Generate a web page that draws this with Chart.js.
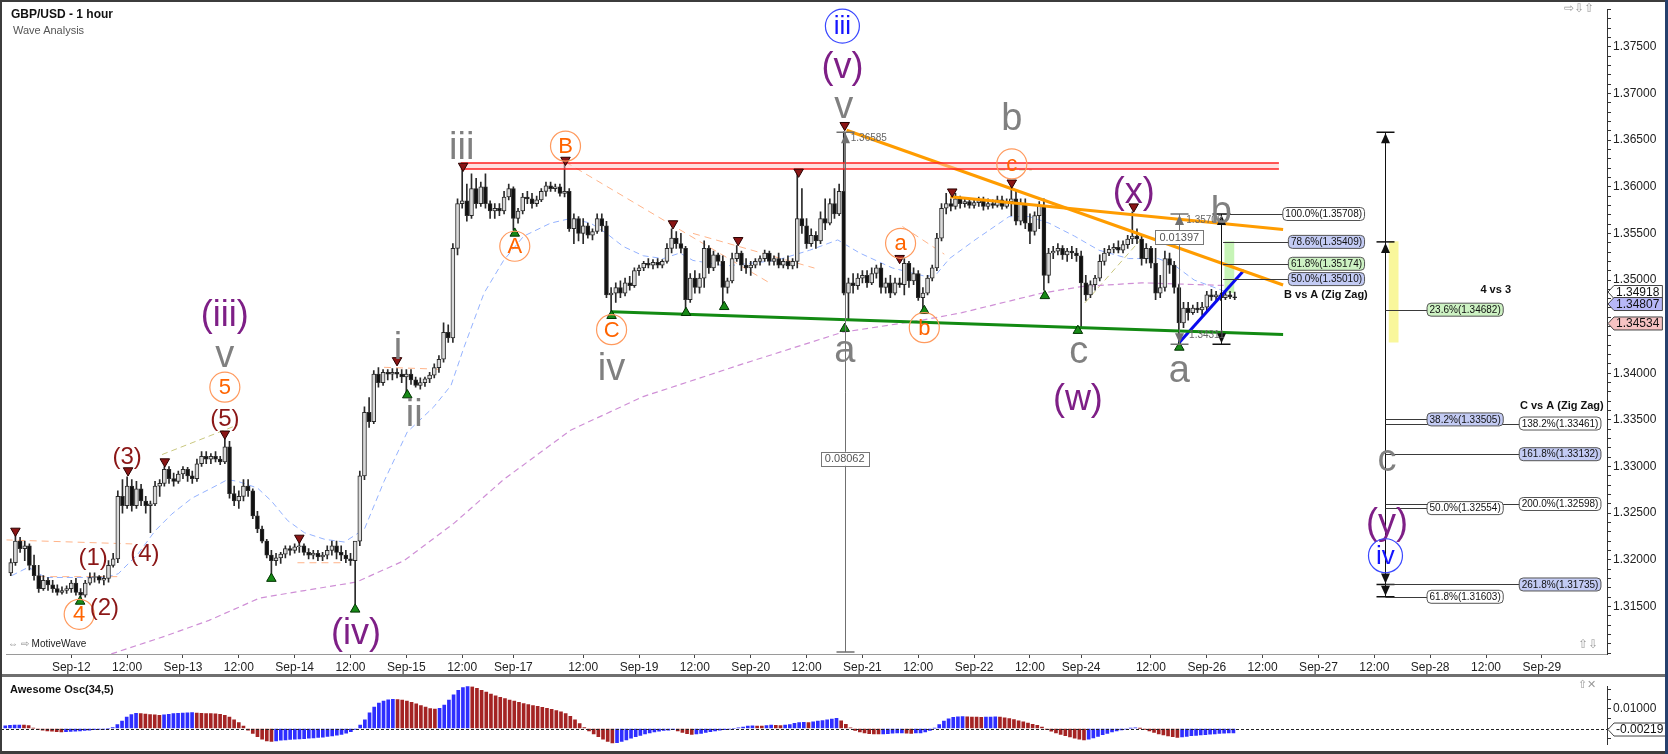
<!DOCTYPE html>
<html>
<head>
<meta charset="utf-8">
<title>GBP/USD - 1 hour</title>
<script src="https://cdn.jsdelivr.net/npm/chart.js@4.4.0/dist/chart.umd.min.js"></script>
<style>
  html, body { margin: 0; padding: 0; background: #fff; overflow: hidden; }
  #wrap { position: relative; width: 1668px; height: 754px; background: #fff;
          font-family: "Liberation Sans", Arial, sans-serif; }
  canvas { position: absolute; left: 0; }
  #main { top: 0; }
  #osc { top: 677px; }
  .t { position: absolute; white-space: nowrap; line-height: 1; }
  .bar { position: absolute; }
</style>
</head>
<body>
<div id="wrap">
  <canvas id="main" width="1668" height="676"></canvas>
  <canvas id="osc" width="1668" height="77"></canvas>

  <div class="bar" style="left:0;top:674px;width:1668px;height:3px;background:#6f6f6f"></div>
  <div class="bar" style="left:0;top:0;width:1668px;height:2px;background:#3c3c3c"></div>
  <div class="bar" style="left:0;top:0;width:2px;height:754px;background:#3c3c3c"></div>
  <div class="bar" style="left:0;top:751px;width:1668px;height:3px;background:#3c3c3c"></div>
  <div class="bar" style="left:1665px;top:0;width:3px;height:754px;background:#26406c"></div>

  <div class="t" style="left:11px;top:8px;font-weight:bold;font-size:12px;color:#111">GBP/USD - 1 hour</div>
  <div class="t" style="left:13px;top:25px;font-size:11px;color:#555">Wave Analysis</div>
  <div class="t" style="left:8px;top:639px;font-size:10px;color:#222"><span style="color:#888">&#x21D4; &#x21E8;</span> MotiveWave</div>
  <div class="t" style="left:1564px;top:2px;font-size:12px;color:#999">&#x21E8;&#x21E9;&#x21E7;</div>
  <div class="t" style="left:1578px;top:638px;font-size:12px;color:#999">&#x21E7;&#x21E9;</div>
  <div class="t" style="left:10px;top:684px;font-weight:bold;font-size:11px;color:#111">Awesome Osc(34,5)</div>
  <div class="t" style="left:1578px;top:679px;font-size:11px;color:#999">&#x21E7;&#x2715;</div>
</div>

<script>
// ---- price data: hourly candles [open, high, low, close], first bar = Sep-11 11:00 ----
const firstBar = -13;
const candles = [
  [1.3186,1.3201,1.3183,1.3197],[1.3197,1.3226,1.3194,1.3220],[1.3220,1.3224,1.3208,1.3212],
  [1.3212,1.3220,1.3199,1.3215],[1.3215,1.3217,1.3189,1.3194],[1.3194,1.3205,1.3178,1.3183],
  [1.3183,1.3194,1.3165,1.3169],[1.3169,1.3183,1.3167,1.3178],[1.3178,1.3181,1.3167,1.3173],
  [1.3173,1.3178,1.3165,1.3169],[1.3169,1.3173,1.3162,1.3165],[1.3165,1.3171,1.3163,1.3167],
  [1.3167,1.3172,1.3164,1.3169],[1.3169,1.3178,1.3165,1.3175],[1.3175,1.3180,1.3162,1.3165],
  [1.3165,1.3169,1.3159,1.3162],[1.3162,1.3178,1.3160,1.3175],[1.3175,1.3186,1.3173,1.3181],
  [1.3181,1.3186,1.3176,1.3182],[1.3182,1.3183,1.3175,1.3178],[1.3178,1.3183,1.3173,1.3180],
  [1.3180,1.3199,1.3176,1.3194],[1.3194,1.3207,1.3192,1.3201],[1.3201,1.3274,1.3197,1.3268],
  [1.3268,1.3286,1.3250,1.3258],[1.3258,1.3289,1.3255,1.3279],[1.3279,1.3286,1.3252,1.3258],
  [1.3258,1.3284,1.3255,1.3276],[1.3276,1.3281,1.3258,1.3263],[1.3263,1.3268,1.3250,1.3258],
  [1.3258,1.3263,1.3229,1.3260],[1.3260,1.3284,1.3258,1.3279],[1.3279,1.3286,1.3268,1.3282],
  [1.3282,1.3300,1.3279,1.3297],[1.3297,1.3300,1.3282,1.3287],[1.3287,1.3293,1.3279,1.3284],
  [1.3284,1.3295,1.3282,1.3292],[1.3292,1.3300,1.3287,1.3297],[1.3297,1.3299,1.3284,1.3290],
  [1.3290,1.3295,1.3282,1.3287],[1.3287,1.3308,1.3284,1.3303],[1.3303,1.3316,1.3300,1.3311],
  [1.3311,1.3316,1.3303,1.3308],[1.3308,1.3314,1.3303,1.3311],[1.3311,1.3316,1.3305,1.3308],
  [1.3308,1.3311,1.3302,1.3305],[1.3305,1.3330,1.3303,1.3321],[1.3321,1.3327,1.3266,1.3271],
  [1.3271,1.3279,1.3258,1.3263],[1.3263,1.3274,1.3255,1.3268],[1.3268,1.3286,1.3263,1.3279],
  [1.3279,1.3286,1.3268,1.3274],[1.3274,1.3276,1.3244,1.3247],[1.3247,1.3252,1.3229,1.3233],
  [1.3233,1.3236,1.3218,1.3220],[1.3220,1.3222,1.3202,1.3205],[1.3205,1.3210,1.3181,1.3199],
  [1.3199,1.3207,1.3194,1.3202],[1.3202,1.3208,1.3196,1.3206],[1.3206,1.3215,1.3202,1.3212],
  [1.3212,1.3215,1.3205,1.3210],[1.3210,1.3217,1.3207,1.3214],[1.3214,1.3222,1.3208,1.3215],
  [1.3215,1.3217,1.3205,1.3208],[1.3208,1.3212,1.3201,1.3205],[1.3205,1.3210,1.3201,1.3207],
  [1.3207,1.3210,1.3199,1.3203],[1.3203,1.3208,1.3199,1.3205],[1.3205,1.3215,1.3201,1.3210],
  [1.3210,1.3220,1.3205,1.3215],[1.3215,1.3220,1.3201,1.3208],[1.3208,1.3215,1.3199,1.3205],
  [1.3205,1.3210,1.3197,1.3201],[1.3201,1.3207,1.3194,1.3199],[1.3199,1.3212,1.3152,1.3220],
  [1.3220,1.3295,1.3215,1.3290],[1.3290,1.3364,1.3286,1.3358],[1.3358,1.3374,1.3342,1.3348],
  [1.3348,1.3403,1.3346,1.3399],[1.3399,1.3406,1.3385,1.3390],[1.3390,1.3404,1.3387,1.3401],
  [1.3401,1.3404,1.3393,1.3399],[1.3399,1.3405,1.3393,1.3401],[1.3401,1.3405,1.3395,1.3399],
  [1.3399,1.3404,1.3390,1.3396],[1.3396,1.3404,1.3378,1.3399],[1.3399,1.3404,1.3388,1.3393],
  [1.3393,1.3396,1.3385,1.3387],[1.3387,1.3395,1.3383,1.3390],[1.3390,1.3396,1.3386,1.3394],
  [1.3394,1.3401,1.3390,1.3398],[1.3398,1.3410,1.3395,1.3406],[1.3406,1.3419,1.3401,1.3415],
  [1.3415,1.3454,1.3412,1.3444],[1.3444,1.3452,1.3433,1.3438],[1.3438,1.3539,1.3433,1.3534],
  [1.3534,1.3587,1.3527,1.3582],[1.3582,1.3622,1.3577,1.3585],[1.3585,1.3603,1.3563,1.3569],
  [1.3569,1.3614,1.3566,1.3598],[1.3598,1.3609,1.3577,1.3582],[1.3582,1.3605,1.3579,1.3600],
  [1.3600,1.3614,1.3577,1.3582],[1.3582,1.3585,1.3566,1.3574],[1.3574,1.3582,1.3566,1.3577],
  [1.3577,1.3582,1.3569,1.3574],[1.3574,1.3595,1.3571,1.3589],[1.3589,1.3603,1.3586,1.3598],
  [1.3598,1.3600,1.3554,1.3566],[1.3566,1.3577,1.3561,1.3574],[1.3574,1.3593,1.3571,1.3589],
  [1.3589,1.3595,1.3582,1.3587],[1.3587,1.3593,1.3577,1.3582],[1.3582,1.3590,1.3579,1.3586],
  [1.3586,1.3598,1.3584,1.3595],[1.3595,1.3605,1.3590,1.3601],[1.3601,1.3605,1.3595,1.3598],
  [1.3598,1.3603,1.3595,1.3600],[1.3600,1.3603,1.3590,1.3593],[1.3593,1.3629,1.3589,1.3595],
  [1.3595,1.3598,1.3552,1.3555],[1.3555,1.3571,1.3539,1.3566],[1.3566,1.3568,1.3542,1.3550],
  [1.3550,1.3566,1.3539,1.3558],[1.3558,1.3561,1.3545,1.3548],[1.3548,1.3555,1.3543,1.3552],
  [1.3552,1.3571,1.3550,1.3566],[1.3566,1.3571,1.3552,1.3558],[1.3558,1.3563,1.3481,1.3484],
  [1.3484,1.3492,1.3463,1.3486],[1.3486,1.3497,1.3476,1.3492],[1.3492,1.3499,1.3481,1.3486],
  [1.3486,1.3502,1.3483,1.3497],[1.3497,1.3504,1.3489,1.3494],[1.3494,1.3513,1.3492,1.3510],
  [1.3510,1.3516,1.3505,1.3513],[1.3513,1.3520,1.3510,1.3518],[1.3518,1.3523,1.3513,1.3516],
  [1.3516,1.3522,1.3512,1.3519],[1.3519,1.3523,1.3513,1.3516],[1.3516,1.3522,1.3513,1.3520],
  [1.3520,1.3539,1.3518,1.3534],[1.3534,1.3555,1.3529,1.3545],[1.3545,1.3552,1.3534,1.3539],
  [1.3539,1.3550,1.3529,1.3534],[1.3534,1.3536,1.3467,1.3479],[1.3479,1.3507,1.3476,1.3502],
  [1.3502,1.3510,1.3486,1.3492],[1.3492,1.3507,1.3486,1.3502],[1.3502,1.3542,1.3492,1.3534],
  [1.3534,1.3537,1.3507,1.3513],[1.3513,1.3531,1.3510,1.3527],[1.3527,1.3529,1.3516,1.3520],
  [1.3520,1.3526,1.3472,1.3492],[1.3492,1.3502,1.3486,1.3499],[1.3499,1.3529,1.3497,1.3523],
  [1.3523,1.3537,1.3520,1.3529],[1.3529,1.3531,1.3510,1.3516],[1.3516,1.3523,1.3507,1.3513],
  [1.3513,1.3520,1.3505,1.3516],[1.3516,1.3523,1.3513,1.3520],[1.3520,1.3526,1.3516,1.3523],
  [1.3523,1.3532,1.3520,1.3529],[1.3529,1.3531,1.3516,1.3520],[1.3520,1.3526,1.3516,1.3523],
  [1.3523,1.3529,1.3513,1.3516],[1.3516,1.3523,1.3513,1.3520],[1.3520,1.3526,1.3512,1.3515],
  [1.3515,1.3523,1.3512,1.3520],[1.3520,1.3616,1.3513,1.3566],[1.3566,1.3598,1.3550,1.3558],
  [1.3558,1.3566,1.3534,1.3539],[1.3539,1.3555,1.3536,1.3548],[1.3548,1.3552,1.3534,1.3542],
  [1.3542,1.3573,1.3539,1.3566],[1.3566,1.3587,1.3554,1.3561],[1.3561,1.3587,1.3559,1.3582],
  [1.3582,1.3598,1.3566,1.3571],[1.3571,1.3603,1.3569,1.3595],[1.3595,1.3659,1.3484,1.3486],
  [1.3486,1.3502,1.3458,1.3497],[1.3497,1.3507,1.3486,1.3494],[1.3494,1.3507,1.3490,1.3502],
  [1.3502,1.3510,1.3497,1.3505],[1.3505,1.3510,1.3492,1.3497],[1.3497,1.3513,1.3495,1.3507],
  [1.3507,1.3516,1.3502,1.3513],[1.3513,1.3518,1.3486,1.3492],[1.3492,1.3502,1.3486,1.3497],
  [1.3497,1.3505,1.3481,1.3486],[1.3486,1.3502,1.3484,1.3497],[1.3497,1.3502,1.3492,1.3495],
  [1.3495,1.3523,1.3484,1.3518],[1.3518,1.3520,1.3492,1.3499],[1.3499,1.3513,1.3495,1.3507],
  [1.3507,1.3510,1.3478,1.3481],[1.3481,1.3492,1.3469,1.3486],[1.3486,1.3505,1.3484,1.3502],
  [1.3502,1.3516,1.3499,1.3513],[1.3513,1.3550,1.3510,1.3545],[1.3545,1.3582,1.3542,1.3577],
  [1.3577,1.3593,1.3571,1.3582],[1.3582,1.3587,1.3574,1.3579],[1.3579,1.3593,1.3576,1.3587],
  [1.3587,1.3590,1.3577,1.3582],[1.3582,1.3587,1.3578,1.3584],[1.3584,1.3587,1.3577,1.3580],
  [1.3580,1.3586,1.3577,1.3583],[1.3583,1.3589,1.3579,1.3585],[1.3585,1.3589,1.3575,1.3579],
  [1.3579,1.3587,1.3576,1.3582],[1.3582,1.3586,1.3577,1.3580],[1.3580,1.3590,1.3578,1.3586],
  [1.3586,1.3590,1.3576,1.3579],[1.3579,1.3587,1.3577,1.3584],[1.3584,1.3603,1.3569,1.3587],
  [1.3587,1.3595,1.3559,1.3563],[1.3563,1.3587,1.3559,1.3582],[1.3582,1.3587,1.3555,1.3561],
  [1.3561,1.3571,1.3539,1.3552],[1.3552,1.3573,1.3548,1.3569],[1.3569,1.3584,1.3555,1.3580],
  [1.3580,1.3587,1.3489,1.3505],[1.3505,1.3534,1.3497,1.3529],[1.3529,1.3536,1.3523,1.3531],
  [1.3531,1.3539,1.3527,1.3534],[1.3534,1.3537,1.3522,1.3527],[1.3527,1.3534,1.3520,1.3531],
  [1.3531,1.3536,1.3523,1.3529],[1.3529,1.3534,1.3520,1.3526],[1.3526,1.3531,1.3449,1.3497],
  [1.3497,1.3505,1.3478,1.3484],[1.3484,1.3499,1.3481,1.3495],[1.3495,1.3505,1.3489,1.3502],
  [1.3502,1.3527,1.3499,1.3520],[1.3520,1.3534,1.3516,1.3529],[1.3529,1.3537,1.3526,1.3533],
  [1.3533,1.3539,1.3529,1.3535],[1.3535,1.3542,1.3529,1.3532],[1.3532,1.3542,1.3529,1.3538],
  [1.3538,1.3548,1.3534,1.3544],[1.3544,1.3573,1.3539,1.3547],[1.3547,1.3555,1.3539,1.3544],
  [1.3544,1.3548,1.3516,1.3523],[1.3523,1.3539,1.3518,1.3534],[1.3534,1.3536,1.3513,1.3518],
  [1.3518,1.3534,1.3479,1.3486],[1.3486,1.3505,1.3481,1.3492],[1.3492,1.3531,1.3488,1.3523],
  [1.3523,1.3529,1.3507,1.3516],[1.3516,1.3520,1.3486,1.3492],[1.3492,1.3495,1.3431,1.3454],
  [1.3454,1.3476,1.3449,1.3470],[1.3470,1.3476,1.3457,1.3465],[1.3465,1.3473,1.3463,1.3470],
  [1.3470,1.3476,1.3465,1.3468],[1.3468,1.3476,1.3462,1.3471],[1.3471,1.3488,1.3467,1.3484],
  [1.3484,1.3490,1.3478,1.3482],[1.3482,1.3488,1.3478,1.3484],[1.3484,1.3486,1.3478,1.3481],
  [1.3481,1.3487,1.3479,1.3484],[1.3484,1.3488,1.3480,1.3482],[1.3482,1.3487,1.3479,1.3481]
];

// Awesome Oscillator (34,5), one value per candle
const aoValues = [
  0.0014, 0.0016, 0.0018, 0.0018, 0.0017, 0.0015, 0.0002,-0.0004,-0.0008,-0.0012,
 -0.0014,-0.0016,-0.0017,-0.0016,-0.0015,-0.0014,-0.0012,-0.0010,-0.0008,-0.0006,
 -0.0005,-0.0004,-0.0002, 0.0005, 0.0020, 0.0038, 0.0058, 0.0072, 0.0078, 0.0076,
  0.0074, 0.0072, 0.0070, 0.0068, 0.0070, 0.0073, 0.0076, 0.0078, 0.0079, 0.0080,
  0.0081, 0.0079, 0.0078, 0.0077, 0.0076, 0.0075, 0.0073, 0.0068, 0.0058, 0.0045,
  0.0030, 0.0012,-0.0008,-0.0025,-0.0042,-0.0055,-0.0064,-0.0066,-0.0063,-0.0060,
 -0.0058,-0.0056,-0.0055,-0.0053,-0.0052,-0.0050,-0.0048,-0.0046,-0.0044,-0.0041,
 -0.0038,-0.0034,-0.0030,-0.0024,-0.0016,-0.0004, 0.0018, 0.0045, 0.0080, 0.0110,
  0.0130, 0.0141, 0.0147, 0.0150, 0.0148, 0.0145, 0.0140, 0.0134, 0.0126, 0.0118,
  0.0110, 0.0102, 0.0099, 0.0104, 0.0120, 0.0145, 0.0172, 0.0195, 0.0210, 0.0216,
  0.0214, 0.0206, 0.0196, 0.0186, 0.0176, 0.0167, 0.0160, 0.0153, 0.0146, 0.0140,
  0.0134, 0.0128, 0.0123, 0.0118, 0.0113, 0.0108, 0.0103, 0.0098, 0.0092, 0.0085,
  0.0076, 0.0062, 0.0045, 0.0025, 0.0005,-0.0012,-0.0028,-0.0042,-0.0055,-0.0066,
 -0.0074,-0.0072,-0.0066,-0.0058,-0.0050,-0.0042,-0.0035,-0.0028,-0.0022,-0.0017,
 -0.0013,-0.0010,-0.0008,-0.0006,-0.0012,-0.0020,-0.0026,-0.0030,-0.0028,-0.0025,
 -0.0020,-0.0016,-0.0012,-0.0009,-0.0006,-0.0003, 0.0000, 0.0004, 0.0008, 0.0012,
  0.0014, 0.0013, 0.0012, 0.0015, 0.0017, 0.0016, 0.0015, 0.0017, 0.0020, 0.0026,
  0.0030, 0.0032, 0.0031, 0.0034, 0.0038, 0.0041, 0.0044, 0.0048, 0.0052, 0.0040,
  0.0022, 0.0004,-0.0010,-0.0018,-0.0023,-0.0026,-0.0027,-0.0028,-0.0027,-0.0026,
 -0.0024,-0.0023,-0.0022,-0.0024,-0.0025,-0.0023,-0.0022,-0.0018,-0.0010, 0.0002,
  0.0020, 0.0038, 0.0050, 0.0057, 0.0060, 0.0061, 0.0060, 0.0059, 0.0058, 0.0057,
  0.0058, 0.0059, 0.0060, 0.0058, 0.0055, 0.0051, 0.0046, 0.0040, 0.0034, 0.0028,
  0.0022, 0.0016, 0.0008,-0.0004,-0.0014,-0.0022,-0.0030,-0.0037,-0.0043,-0.0049,
 -0.0054,-0.0058,-0.0055,-0.0048,-0.0040,-0.0032,-0.0025,-0.0018,-0.0012,-0.0007,
 -0.0003, 0.0002, 0.0004, 0.0001,-0.0004,-0.0012,-0.0020,-0.0027,-0.0033,-0.0038,
 -0.0042,-0.0045,-0.0043,-0.0040,-0.0037,-0.0035,-0.0033,-0.0031,-0.0029,-0.0027,
 -0.0025,-0.0024,-0.0023,-0.0022
];

// time axis (bar index) and its labels
const tickBars   = [0, 12, 24, 36, 48, 60, 72, 84, 95, 110, 122, 134, 146, 158, 170, 182, 194, 206, 217, 232, 244, 256, 268, 280, 292, 304, 316];
const tickLabels = ['Sep-12','12:00','Sep-13','12:00','Sep-14','12:00','Sep-15','12:00','Sep-17','12:00','Sep-19','12:00','Sep-20','12:00',
                    'Sep-21','12:00','Sep-22','12:00','Sep-24','12:00','Sep-26','12:00','Sep-27','12:00','Sep-28','12:00','Sep-29'];

// moving averages [bar, price]
const maFast = [[-12.8,1.3183],[-9.2,1.3192],[-5.6,1.3181],[7.3,1.3181],[10.1,1.3185],[14.3,1.3206],[18.0,1.3231],[21.6,1.3249],
  [25.9,1.3266],[30.2,1.3277],[33.6,1.3286],[35.8,1.3284],[40.0,1.3277],[43.0,1.3263],[46.5,1.3242],[50.1,1.3229],[54.4,1.3222],
  [58.7,1.3219],[63.0,1.3233],[67.2,1.3284],[72.2,1.3337],[77.9,1.3364],[81.6,1.3387],[84.4,1.3428],[88.7,1.3486],[92.9,1.3521],
  [97.2,1.3547],[103.0,1.3561],[107.3,1.3566],[111.6,1.3561],[115.0,1.3550],[118.6,1.3536],[122.9,1.3526],[127.2,1.3523],
  [130.8,1.3529],[133.6,1.3521],[140.7,1.3515],[151.4,1.3521],[158.7,1.3532],[164.7,1.3543],[169.4,1.3529],[176.4,1.3513],
  [183.5,1.3504],[185.7,1.3505],[188.7,1.3523],[194.2,1.3543],[201.5,1.3568],[205.8,1.3568],[210.1,1.3561],[215.6,1.3547],
  [220.8,1.3532],[227.2,1.3523],[233.6,1.3523],[237.0,1.3516],[241.3,1.3500],[247.8,1.3488]];
const maSlow = [[8.6,1.3099],[20.1,1.3118],[29.6,1.3135],[40.5,1.3159],[50.1,1.3167],[61.2,1.3176],[71.5,1.3199],[82.2,1.3239],
  [92.9,1.3286],[107.3,1.3339],[122.9,1.3375],[144.3,1.3410],[165.7,1.3444],[182.9,1.3457],[191.4,1.3465],[208.6,1.3486],
  [217.1,1.3493],[230.0,1.3497],[248.6,1.3494]];

// drawn trend lines [bar, price]
const redBandTop  = [[83.7,1.36255],[259.5,1.36255]];
const redBandBot  = [[83.7,1.36191],[259.5,1.36191]];
const greenLine   = [[116.1,1.34660],[260.4,1.34415]];
const orangeLine1 = [[166.6,1.36606],[260.4,1.34947]];
const orangeLine2 = [[188.9,1.35894],[260.4,1.35543]];
const blueLine    = [[238.1,1.34330],[252.0,1.35106]];
const guideOrange = [
  [[-14.1,1.32213],[13.1,1.32170]], [[-7.1,1.31819],[10.1,1.31819]], [[48.6,1.31968],[58.7,1.31968]],
  [[67.2,1.34064],[79.4,1.34043]], [[106.2,1.36266],[150.1,1.34968]], [[133.6,1.35500],[159.7,1.35128]],
  [[178.6,1.35574],[187.6,1.35277]]
];
const guideTan = [
  [[19.5,1.33128],[35.8,1.33447]], [[199.4,1.36181],[206.4,1.36181]], [[217.8,1.34755],[230.6,1.35479]]
];

// swing markers [bar, price]
const swingHighs = [[-12.0,1.32309],[12.2,1.32957],[20.1,1.33053],[33.0,1.33351],[49.0,1.32234],[70.0,1.34138],[84.2,1.36223],
  [106.2,1.36287],[129.3,1.35606],[143.3,1.35426],[156.3,1.36160],[166.2,1.36660],[178.0,1.35234],[189.3,1.35947],[202.1,1.36043],[228.3,1.35787]];
const swingLows = [[1.9,1.31553],[43.0,1.31798],[61.0,1.31468],[72.2,1.33766],[95.3,1.35500],[116.1,1.34617],[132.1,1.34649],
  [140.3,1.34713],[166.2,1.34479],[183.3,1.34670],[209.2,1.34830],[216.3,1.34457],[238.1,1.34277]];

// wave labels [text, bar, price, kind]
const waveLabels = [
  ['4',1.7,1.31415,'orange'], ['(2)',7.1,1.31489,'red'], ['(1)',4.7,1.32021,'red'], ['(4)',15.8,1.32064,'red'],
  ['(3)',12.0,1.33106,'red'], ['(5)',33.0,1.33511,'red'], ['5',33.0,1.33851,'orange'], ['v',33.0,1.34191,'grey'],
  ['(iii)',33.0,1.34628,'purple'], ['(iv)',61.2,1.31213,'purple'], ['i',70.2,1.34277,'grey'], ['ii',73.7,1.33553,'grey'],
  ['iii',83.9,1.36426,'grey'], ['A',95.3,1.35362,'orange'], ['B',106.2,1.36436,'orange'], ['C',116.1,1.34468,'orange'],
  ['iv',116.1,1.34053,'grey'], ['iii',165.7,1.37723,'blue'], ['(v)',165.7,1.37287,'purple'], ['v',166.0,1.36862,'grey'],
  ['a',178.2,1.35394,'orange'], ['a',166.2,1.34202,'grey'], ['b',183.3,1.34489,'orange'], ['b',202.1,1.36691,'grey'],
  ['c',202.1,1.36245,'orange'], ['(x)',228.3,1.35947,'purple'], ['c',216.5,1.34191,'grey'], ['(w)',216.3,1.33723,'purple'],
  ['a',238.1,1.33989,'grey'], ['b',247.1,1.35691,'grey'], ['c',282.7,1.33037,'grey'], ['(y)',282.7,1.32394,'purple'],
  ['iv',282.4,1.32043,'blue']
];

// measurements [bar, top price, bottom price, kind] and their boxed values [text, bar, price]
const measures = [[166.2,1.36585,1.3101,'grey'],[238.1,1.35708,1.34311,'grey'],[247.1,1.35708,1.34311,'dark'],[282.4,1.36585,1.31603,'dark']];
const measureTicks = [[282.4,1.35409,'up'],[282.4,1.31735,'down']];
const measureBoxes = [['0.08062',166.2,1.33083],['0.01397',238.1,1.35457]];
const priceNotes = [['1.36585',167.5,1.36521],['1.35708',239.6,1.35638],['1.34311',240.2,1.34404]];

// Fibonacci levels [label, price, group, fill]
const fibLevels = [
  ['100.0%',1.35708,'BA','white'], ['78.6%',1.35409,'BA','blue'], ['61.8%',1.35174,'BA','green'], ['50.0%',1.35010,'BA','blue'],
  ['23.6%',1.34682,'FT','green'], ['38.2%',1.33505,'FT','blue'], ['50.0%',1.32554,'FT','white'], ['61.8%',1.31603,'FT','white'],
  ['138.2%',1.33461,'CA','white'], ['161.8%',1.33132,'CA','blue'], ['200.0%',1.32598,'CA','white'], ['261.8%',1.31735,'CA','blue']
];
const fibGroups = { BA: [247.5, 277.9], FT: [282.4, 307.7], CA: [282.4, 328.7] };   // [line start bar, box right bar]
const fibTitles = [['B vs A (Zig Zag)',260.6,1.34840], ['4 vs 3',302.8,1.34894], ['C vs A (Zig Zag)',311.3,1.33649]];
const zones = [[283.1,285.2,1.35415,1.34330,'yellow'], [247.8,249.9,1.35415,1.34862,'green']];
const priceTags = [[1.34918,'white'],[1.34807,'blue'],[1.34534,'red']];
const aoTag = -0.00219;

// ---- styles ----
const FONT = '"Liberation Sans", Arial, sans-serif';
const labelStyle = {
  grey:   { color: '#808080', size: 38 },
  purple: { color: '#7e1f86', size: 36 },
  red:    { color: '#8b1717', size: 24 },
  orange: { color: '#ff6400', size: 22, ring: '#ff9a5e', r: 15 },
  blue:   { color: '#1515ff', size: 26, ring: '#3a48ff', r: 17 }
};
const boxFill = { white: '#ffffff', blue: '#c3cbf4', green: '#cdf2c3' };
const zoneFill = { yellow: '#f9f79c', green: '#c6f4b6' };
const tagFill = { white: '#ffffff', blue: '#b7b7f7', red: '#f6c3c3' };

Chart.defaults.font.family = FONT;

const xMin = -13.92, xMax = 330;
const yMin = 1.309894, yMax = 1.379043;
const pts = arr => arr.map(([b, p]) => ({ x: b, y: p }));
const candleBar = k => firstBar + k;

function lineSet(data, color, width, dash, order) {
  return { type: 'line', data: pts(data), borderColor: color, borderWidth: width, borderDash: dash || [],
           pointRadius: 0, fill: false, tension: 0, order: order };
}

const datasets = [
  lineSet(maFast, '#94b2ff', 1, [6, 4], 6),
  lineSet(maSlow, '#cf8fd6', 1.2, [6, 4], 6),
  ...guideOrange.map(s => lineSet(s, '#ffb48a', 1, [7, 5], 6)),
  ...guideTan.map(s => lineSet(s, '#c9c77f', 1, [6, 4], 6)),
  {
    type: 'bar', label: 'wicks', order: 5, grouped: false, barThickness: 1,
    data: candles.map((c, k) => ({ x: candleBar(k), y: [c[2], c[1]] })),
    backgroundColor: '#2a2a2a', borderWidth: 0
  },
  {
    type: 'bar', label: 'bodies', order: 4, grouped: false, barThickness: 4, minBarLength: 1,
    data: candles.map((c, k) => ({ x: candleBar(k), y: [c[0], c[3]] })),
    backgroundColor: ctx => { const c = candles[ctx.dataIndex]; return c && c[3] >= c[0] ? '#d9d9d9' : '#111111'; },
    borderColor: '#2a2a2a', borderWidth: 1, borderSkipped: false
  },
  lineSet(redBandTop, '#ff2020', 1.6, null, 3),
  Object.assign(lineSet(redBandBot, '#ff2020', 1.6, null, 3), { fill: '-1', backgroundColor: 'rgba(255,190,190,0.45)' }),
  lineSet(greenLine, '#138a13', 3, null, 3),
  lineSet(orangeLine1, '#ff9c00', 3, null, 3),
  lineSet(orangeLine2, '#ff9c00', 3, null, 3),
  lineSet(blueLine, '#0a0aee', 3, null, 3),
  {
    type: 'line', showLine: false, order: 1, data: pts(swingHighs),
    pointStyle: 'triangle', pointRotation: 180, pointRadius: 5.5,
    pointBackgroundColor: '#8a1515', pointBorderColor: '#2a0000', pointBorderWidth: 1
  },
  {
    type: 'line', showLine: false, order: 1, data: pts(swingLows),
    pointStyle: 'triangle', pointRadius: 5.5,
    pointBackgroundColor: '#178a17', pointBorderColor: '#003300', pointBorderWidth: 1
  }
];

function roundRect(ctx, x, y, w, h, r) {
  ctx.beginPath();
  ctx.moveTo(x + r, y); ctx.lineTo(x + w - r, y); ctx.quadraticCurveTo(x + w, y, x + w, y + r);
  ctx.lineTo(x + w, y + h - r); ctx.quadraticCurveTo(x + w, y + h, x + w - r, y + h);
  ctx.lineTo(x + r, y + h); ctx.quadraticCurveTo(x, y + h, x, y + h - r);
  ctx.lineTo(x, y + r); ctx.quadraticCurveTo(x, y, x + r, y); ctx.closePath();
}

function arrowHead(ctx, px, py, dir) {
  // dir = -1 points up, +1 points down; tip at py
  ctx.beginPath();
  ctx.moveTo(px, py); ctx.lineTo(px - 4.5, py - dir * 10); ctx.lineTo(px + 4.5, py - dir * 10);
  ctx.closePath(); ctx.fill();
}

function drawTag(ctx, x0, cy, text, fill) {
  const w = ctx.measureText(text).width + 5, h = 13;
  ctx.beginPath();
  ctx.moveTo(x0 + 1, cy);
  ctx.lineTo(x0 + 7, cy - h / 2); ctx.lineTo(x0 + 7 + w, cy - h / 2);
  ctx.lineTo(x0 + 7 + w, cy + h / 2); ctx.lineTo(x0 + 7, cy + h / 2);
  ctx.closePath();
  ctx.fillStyle = fill; ctx.fill();
  ctx.strokeStyle = '#444'; ctx.lineWidth = 1; ctx.stroke();
  ctx.fillStyle = '#111'; ctx.textAlign = 'left'; ctx.textBaseline = 'middle';
  ctx.fillText(text, x0 + 9, cy + 0.5);
}

const annotations = {
  id: 'annotations',
  beforeDatasetsDraw(chart) {
    const { ctx, scales: { x, y } } = chart;
    ctx.save();
    zones.forEach(([b1, b2, p1, p2, kind]) => {
      const x1 = x.getPixelForValue(b1), x2 = x.getPixelForValue(b2);
      const y1 = y.getPixelForValue(p1), y2 = y.getPixelForValue(p2);
      ctx.fillStyle = zoneFill[kind];
      ctx.fillRect(x1, y1, x2 - x1, y2 - y1);
    });
    ctx.restore();
  },
  afterDatasetsDraw(chart) {
    const { ctx, scales: { x, y } } = chart;
    const X = v => x.getPixelForValue(v), Y = v => y.getPixelForValue(v);
    ctx.save();

    // measurement lines
    measures.forEach(([b, pt, pb, kind]) => {
      const col = kind === 'grey' ? '#707070' : '#111';
      const px = Math.round(X(b)) + 0.5, yt = Y(pt), yb = Y(pb);
      ctx.strokeStyle = col; ctx.fillStyle = col; ctx.lineWidth = 1;
      ctx.beginPath(); ctx.moveTo(px, yt); ctx.lineTo(px, yb); ctx.stroke();
      ctx.lineWidth = 1.5;
      ctx.beginPath(); ctx.moveTo(px - 9, yt); ctx.lineTo(px + 9, yt);
      ctx.moveTo(px - 9, yb); ctx.lineTo(px + 9, yb); ctx.stroke();
      arrowHead(ctx, px, yt + 1, -1);
      if (kind !== 'grey' || pb > 1.32) arrowHead(ctx, px, yb - 1, 1);
    });
    measureTicks.forEach(([b, p, dir]) => {
      const px = Math.round(X(b)) + 0.5, py = Y(p);
      ctx.strokeStyle = '#111'; ctx.fillStyle = '#111'; ctx.lineWidth = 1.5;
      ctx.beginPath(); ctx.moveTo(px - 9, py); ctx.lineTo(px + 9, py); ctx.stroke();
      arrowHead(ctx, px, dir === 'up' ? py + 1 : py - 1, dir === 'up' ? -1 : 1);
    });

    // fibonacci lines and boxes
    ctx.font = '10px ' + FONT;
    const boxes = fibLevels.map(([pct, p, g, fill]) => {
      const text = pct + '(' + p.toFixed(5) + ')';
      const w = ctx.measureText(text).width + 5;
      const right = X(fibGroups[g][1]);
      return { text, left: right - w, w, py: Y(p), from: X(fibGroups[g][0]), fill };
    });
    ctx.strokeStyle = '#3a3a3a'; ctx.lineWidth = 1;
    boxes.forEach(bx => {
      const py = Math.round(bx.py) + 0.5;
      ctx.beginPath(); ctx.moveTo(bx.from, py); ctx.lineTo(bx.left, py); ctx.stroke();
    });
    boxes.forEach(bx => {
      roundRect(ctx, bx.left, bx.py - 6.5, bx.w, 13, 4);
      ctx.fillStyle = boxFill[bx.fill]; ctx.fill();
      ctx.strokeStyle = '#555'; ctx.stroke();
      ctx.fillStyle = '#111'; ctx.textAlign = 'left'; ctx.textBaseline = 'middle';
      ctx.fillText(bx.text, bx.left + 2.5, bx.py + 0.5);
    });

    ctx.font = 'bold 11px ' + FONT;
    ctx.fillStyle = '#111'; ctx.textAlign = 'left'; ctx.textBaseline = 'middle';
    fibTitles.forEach(([t, b, p]) => ctx.fillText(t, X(b), Y(p)));

    // small price notes
    ctx.font = '10px ' + FONT; ctx.fillStyle = '#666';
    priceNotes.forEach(([t, b, p]) => ctx.fillText(t, X(b), Y(p)));

    // measurement value boxes
    ctx.font = '11px ' + FONT;
    measureBoxes.forEach(([t, b, p]) => {
      const w = ctx.measureText(t).width + 8, px = X(b), py = Y(p);
      ctx.fillStyle = '#fff'; ctx.fillRect(px - w / 2, py - 7, w, 14);
      ctx.strokeStyle = '#777'; ctx.strokeRect(Math.round(px - w / 2) + 0.5, Math.round(py - 7) + 0.5, Math.round(w), 14);
      ctx.fillStyle = '#555'; ctx.textAlign = 'center'; ctx.fillText(t, px, py + 0.5);
    });

    // wave labels
    waveLabels.forEach(([t, b, p, kind]) => {
      const st = labelStyle[kind], px = X(b), py = Y(p);
      if (st.r) {
        ctx.beginPath(); ctx.arc(px, py, st.r, 0, Math.PI * 2);
        ctx.lineWidth = 1.2; ctx.strokeStyle = st.ring; ctx.stroke();
      }
      ctx.font = st.size + 'px ' + FONT;
      ctx.fillStyle = st.color; ctx.textAlign = 'center'; ctx.textBaseline = 'middle';
      ctx.fillText(t, px, py + (kind === 'grey' && /^[abc]$/.test(t) ? -3 : 1));
    });
    ctx.restore();
  },
  afterDraw(chart) {
    const { ctx, scales: { y } } = chart;
    ctx.save();
    ctx.font = '12px ' + FONT;
    let prev = y.getPixelForValue(1.35);
    priceTags.forEach(([v, kind]) => {
      const cy = Math.max(y.getPixelForValue(v), prev + 12);
      prev = cy;
      drawTag(ctx, y.left, cy, v.toFixed(5), tagFill[kind]);
    });
    ctx.restore();
  }
};

new Chart(document.getElementById('main'), {
  type: 'bar',
  data: { datasets },
  options: {
    responsive: false, animation: false, events: [],
    layout: { padding: { left: 1, right: 2, top: 4, bottom: 2 } },
    plugins: { legend: { display: false }, tooltip: { enabled: false } },
    scales: {
      x: {
        type: 'linear', min: xMin, max: xMax, offset: false,
        afterBuildTicks: s => { s.ticks = tickBars.map(v => ({ value: v })); },
        afterFit: s => { s.height = 20; },
        ticks: {
          autoSkip: false, maxRotation: 0, padding: 2, color: '#222', font: { size: 12 },
          callback: v => { const k = tickBars.indexOf(v); return k >= 0 ? tickLabels[k] : ''; }
        },
        grid: { drawOnChartArea: false, drawTicks: true, tickLength: 4, color: '#444', offset: false },
        border: { display: true, color: '#9a9a9a' }
      },
      y: {
        position: 'right', min: yMin, max: yMax,
        afterBuildTicks: s => { const t = []; for (let k = 1310; k <= 1379; k++) t.push({ value: k / 1000 }); s.ticks = t; },
        afterFit: s => { s.width = 59; },
        ticks: {
          autoSkip: false, padding: 2, color: '#222', font: { size: 12 },
          callback: v => (v > 1.3149 && Math.round(v * 1000) % 5 === 0) ? v.toFixed(5) : ''
        },
        grid: { drawOnChartArea: false, tickLength: 4, color: '#333' },
        border: { display: true, color: '#333' }
      }
    }
  },
  plugins: [annotations]
});

// ---- Awesome Oscillator panel ----
const oscPlugin = {
  id: 'oscExtras',
  afterDatasetsDraw(chart) {
    const { ctx, chartArea: a, scales: { y } } = chart;
    const py = Math.round(y.getPixelForValue(0)) + 0.5;
    ctx.save();
    ctx.strokeStyle = '#222'; ctx.lineWidth = 1; ctx.setLineDash([3, 2]);
    ctx.beginPath(); ctx.moveTo(a.left, py); ctx.lineTo(a.right, py); ctx.stroke();
    ctx.restore();
  },
  afterDraw(chart) {
    const { ctx, scales: { y } } = chart;
    ctx.save();
    ctx.font = '12px ' + FONT;
    drawTag(ctx, y.left, y.getPixelForValue(0) + 1, aoTag.toFixed(5), '#ffffff');
    ctx.restore();
  }
};

new Chart(document.getElementById('osc'), {
  type: 'bar',
  data: {
    datasets: [{
      data: aoValues.map((v, k) => ({ x: candleBar(k), y: v })),
      barThickness: 3, grouped: false, borderWidth: 0,
      backgroundColor: ctx => {
        const i = ctx.dataIndex;
        return (i === 0 || aoValues[i] >= aoValues[i - 1]) ? '#2e2eff' : '#a42323';
      }
    }]
  },
  options: {
    responsive: false, animation: false, events: [],
    layout: { padding: { left: 1, right: 2, top: 1, bottom: 4 } },
    plugins: { legend: { display: false }, tooltip: { enabled: false } },
    scales: {
      x: { type: 'linear', min: xMin, max: xMax, offset: false, display: false },
      y: {
        position: 'right', min: -0.008333, max: 0.021667,
        afterBuildTicks: s => { s.ticks = [-0.005, 0, 0.005, 0.01, 0.015, 0.02].map(v => ({ value: v })); },
        afterFit: s => { s.width = 59; },
        ticks: {
          autoSkip: false, padding: 2, color: '#222', font: { size: 12 },
          callback: v => (Math.abs(v - 0.01) < 1e-9 || Math.abs(v) < 1e-9) ? v.toFixed(5) : ''
        },
        grid: { drawOnChartArea: false, tickLength: 4, color: '#333' },
        border: { display: true, color: '#333' }
      }
    }
  },
  plugins: [oscPlugin]
});
</script>
</body>
</html>
